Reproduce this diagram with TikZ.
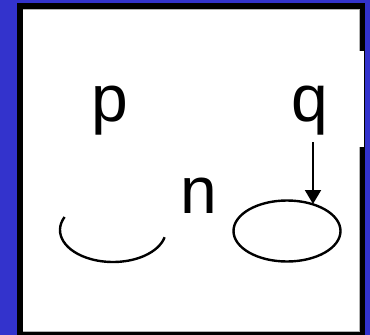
\documentclass[tikz,border=0pt]{standalone}
\usepackage{fontspec}
\setmainfont{Liberation Sans}
\usetikzlibrary{arrows.meta,shapes.geometric}
\definecolor{bgblue}{RGB}{51,51,204}
\tikzset{
  lbl/.style={inner sep=0pt, anchor=base, font=\fontsize{66}{66}\selectfont},
  curve/.style={line width=2.4pt, black},
  pointer/.style={line width=2pt, -{Triangle[width=16pt,length=14pt]}}
}
\begin{document}
\begin{tikzpicture}[x=1pt,y=-1pt]
\useasboundingbox (0,0) rectangle (370,335);
\fill[bgblue] (0,0) rectangle (370,335);
\fill[black] (17,3) rectangle (365,335);
\fill[white] (23,9) rectangle (359.3,331.7);
\draw[gray!60, line width=0.5pt] (23.3,9.3) -- (359,9.3) -- (359,331.4) -- (23.3,331.4);
\fill[white] (358,51) rectangle (363.5,147);
% labels
\node[lbl] (p) at (110,121) {p};
\node[lbl] (q) at (310,121) {q};
\node[lbl] (n) at (199,213) {n};
% left open arc
\draw[curve] (113,230) ++(204:53 and 32) arc[start angle=204, end angle=13, x radius=53, y radius=32];
% right ellipse
\node[ellipse, draw, curve, minimum width=107pt, minimum height=61pt, inner sep=0pt, outer sep=0pt] (e) at (287,231) {};
\coordinate (qa) at (313,142);
\coordinate (et) at (313,204);
\draw[pointer] (qa) -- (et);
\end{tikzpicture}
\end{document}
